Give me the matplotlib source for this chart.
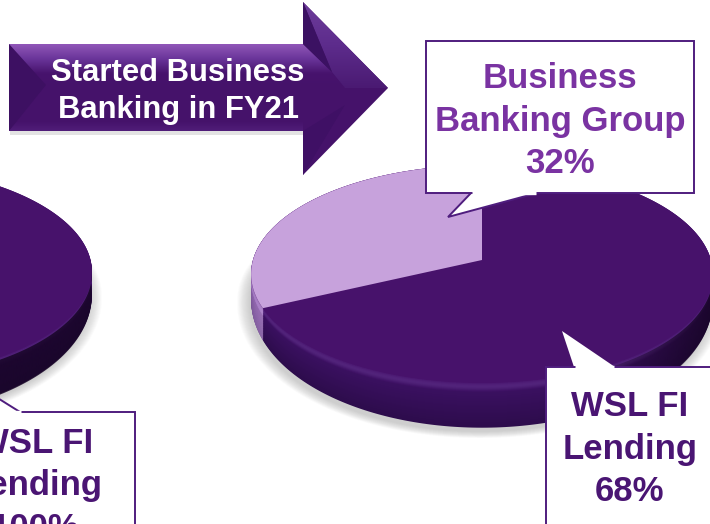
import numpy as np
import matplotlib
matplotlib.use('Agg')
import matplotlib.pyplot as plt
from matplotlib.colors import to_rgb, LinearSegmentedColormap
from matplotlib.patches import Polygon, Rectangle

plt.rcParams['font.family'] = ['Liberation Sans', 'DejaVu Sans']

# data
right_groups = ['Business\nBanking Group', 'WSL FI\nLending']
right_shares = [32, 68]
left_groups = ['WSL FI\nLending']
left_shares = [100]
arrow_text = 'Started Business\nBanking in FY21'

DARK = '#47126b'
LIGHT = '#c7a2dc'
LINE = '#4f1d7e'

fig = plt.figure(figsize=(7.1, 5.24), dpi=100)
ax = fig.add_axes([0, 0, 1, 1])
ax.set_xlim(0, 710)
ax.set_ylim(524, 0)
ax.axis('off')


def disk(cx, cy, rx, ry, a, theta):
    # tilted disk seen in perspective, theta in degrees
    u = np.cos(np.radians(theta))
    v = np.sin(np.radians(theta))
    s = 1 / (1 + a * v)
    return np.column_stack([cx + rx * u * s, cy - ry * v * s])


def drop(theta, d):
    # how far the rim moves down at depth d, less at the sides than at the front
    v = np.sin(np.radians(theta))
    return np.column_stack([np.zeros_like(v), d * (0.5 + 0.5 * np.maximum(0, -v))])


def mix(c1, c2, t):
    c1, c2 = np.array(to_rgb(c1)), np.array(to_rgb(c2))
    return tuple(c1 + (c2 - c1) * t)


def gradient(colors, extent, clip, horizontal=False, z=1):
    cmap = LinearSegmentedColormap.from_list('g', colors)
    g = np.linspace(0, 1, 256)
    g = g.reshape(1, -1) if horizontal else g.reshape(-1, 1)
    im = ax.imshow(g, cmap=cmap, extent=extent, aspect='auto', zorder=z)
    clip_patch = Polygon(clip, closed=True, transform=ax.transData, fc='none', ec='none')
    ax.add_patch(clip_patch)
    im.set_clip_path(clip_patch)
    ax.set_xlim(0, 710)
    ax.set_ylim(524, 0)
    return im


def draw_pie(shares, cx, cy, rx, ry, depth, shade_from, shade_to):
    a = 0.128
    full = np.linspace(0, 360, 361)
    ring = disk(cx, cy, rx, ry, a, full)

    # soft shadow
    for i in range(14):
        k = 1 + 0.004 * i
        pts = disk(cx - 2, cy + 2, rx * k, ry * k, a, full) + drop(full, depth + 2)
        ax.add_patch(Polygon(pts, fc='#666666', ec='none', alpha=0.022, zorder=1))

    # slices go counter clockwise from 12 o'clock, minor share first
    fractions = np.array(shares) / sum(shares)
    light_end = 90 + 360 * fractions[0] if len(shares) > 1 else None
    if light_end is not None:
        th = np.linspace(90, light_end, 120)
        wedge = disk(cx, cy, rx, ry, a, th)

    bevel = 10
    for d in np.arange(depth, -0.5, -1.0):
        if d > bevel:
            t = (d - bevel) / (depth - bevel)
            dark_c = mix('#3a1060', '#2d0c4c', t)
            light_c = mix('#c49bdc', '#b892d3', t)
        else:
            t = d / bevel
            dark_c = mix(DARK, '#572a82', np.sin(t * np.pi) * 0.8)
            dark_c = mix(dark_c, '#3a1060', t ** 3)
            light_c = mix(LIGHT, '#dcb5f5', min(t * 1.6, 1))
        ax.add_patch(Polygon(ring + drop(full, d), fc=dark_c, ec='none', zorder=2))
        if light_end is not None:
            pts = np.vstack([[cx, cy + d * 0.7], wedge + drop(th, d)])
            ax.add_patch(Polygon(pts, fc=light_c, ec='none', zorder=2))

    # side gets darker towards the far edge
    low = np.linspace(180, 360, 200)
    side = np.vstack([disk(cx, cy, rx, ry, a, low) + drop(low, depth + 1),
                      disk(cx, cy, rx, ry, a, low[::-1]) + drop(low[::-1], 3)])
    gradient([(*to_rgb('#170526'), 0), (*to_rgb('#170526'), 0.85), (*to_rgb('#170526'), 0.85)],
             [shade_from, shade_to, 524, 0], side, horizontal=True, z=2.5)

    ax.add_patch(Polygon(ring, fc=DARK, ec='none', zorder=3))
    if light_end is not None:
        ax.add_patch(Polygon(np.vstack([[cx, cy], wedge]), fc=LIGHT, ec='none', zorder=3))


def callout(x0, y0, x1, y1, tail, z=5):
    ax.add_patch(Polygon(tail, fc='white', ec=LINE, lw=1.4, zorder=z, closed=False))
    ax.add_patch(Rectangle((x0, y0), x1 - x0, y1 - y0, fc='white', ec=LINE, lw=1.4, zorder=z))
    # wipe the rectangle's edge where the tail joins it
    ax.plot([tail[0][0] + 1, tail[-1][0] - 1], [tail[0][1], tail[-1][1]],
            color='white', lw=2.4, zorder=z + 0.1, solid_capstyle='butt')


draw_pie(left_shares, -139, 258, 229, 105, 40, -150, 130)
draw_pie(right_shares, 482, 260, 229, 107, 45, 560, 860)

# arrow
ax.add_patch(Polygon([(10, 47), (305, 47), (305, 135), (10, 135)], fc='#777777', ec='none',
                     alpha=0.2, zorder=3.5))
outline = [(9, 44), (303, 44), (303, 2), (388, 88), (303, 175), (303, 131), (9, 131)]
ax.add_patch(Polygon(outline, fc='#45126a', ec='none', zorder=4))
shaft = [(9, 44), (303, 44), (332, 72), (345, 88), (9, 88)]
gradient(['#9157b8', '#6a359a', '#47136d', '#45126a'], [9, 345, 88, 44], shaft, z=4.1)
shaft_low = [(9, 121), (303, 121), (303, 131), (9, 131)]
gradient(['#45126a', '#501d79'], [9, 303, 131, 121], shaft_low, z=4.1)
ax.add_patch(Polygon([(9, 44), (46, 85), (9, 131)], fc='#3d1062', ec='none', zorder=4.2))
head_up = [(303, 2), (388, 88), (345, 88), (332, 72)]
gradient(['#6e3d9b', '#5d2c8c', '#4a1a72'], [303, 388, 88, 2], head_up, z=4.2)
ax.add_patch(Polygon([(303, 2), (332, 72), (303, 44)], fc='#3b1162', ec='none', zorder=4.2))
ax.add_patch(Polygon([(303, 175), (345, 105), (303, 131)], fc='#3f1065', ec='none', zorder=4.2))
ax.text(178, 91.5, arrow_text, color='white', fontsize=22.3, fontweight='bold', ha='center',
        va='center', linespacing=1.33, zorder=6)

# callouts
callout(426, 41, 694, 193, [(471, 193), (448, 217), (537, 193)])
ax.add_patch(Polygon([(574, 367), (562, 331), (615, 367)], fc='white', ec='none', zorder=5))
ax.add_patch(Rectangle((546, 367), 200, 200, fc='white', ec=LINE, lw=1.4, zorder=5))
ax.plot([575, 614], [367, 367], color='white', lw=2.4, zorder=5.1, solid_capstyle='butt')
callout(-40, 412, 135, 560, [(20, 412), (-4, 397), (-30, 412)])

ax.text(560, 121, f'{right_groups[0]}\n{right_shares[0]}%', color='#7a33a2', fontsize=25,
        fontweight='bold', ha='center', va='center', linespacing=1.36, zorder=7)
ax.text(630, 449, f'{right_groups[1]}\n{right_shares[1]}%', color='#4a1573', fontsize=25,
        fontweight='bold', ha='center', va='center', linespacing=1.36, zorder=7)
ax.text(35, 486, f'{left_groups[0]}\n{left_shares[0]}%', color='#4a1573', fontsize=25,
        fontweight='bold', ha='center', va='center', linespacing=1.36, zorder=7)

fig.savefig('out.png', dpi=100)
